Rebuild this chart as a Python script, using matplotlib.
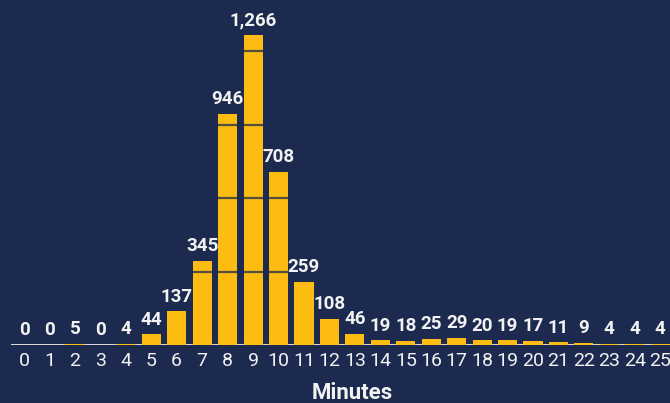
import matplotlib
matplotlib.use("Agg")
import matplotlib.pyplot as plt

minutes = list(range(26))
counts = [0, 0, 5, 0, 4, 44, 137, 345, 946, 1266, 708, 259, 108, 46, 19, 18, 25, 29, 20, 19, 17, 11, 9, 4, 4, 4]
x_title = "Minutes"

BG = "#1b2a4e"
BAR = "#fdbc12"
TXT = "#f2f2f2"
fam = ["Roboto", "DejaVu Sans"]

fig = plt.figure(figsize=(6.7, 4.03), dpi=100, facecolor=BG)
ax = fig.add_axes([11.3 / 670, 58 / 403, 661.7 / 670, 318 / 403], facecolor=BG)

ax.axhline(0, color="#d8d8d8", lw=2.2, zorder=1)
ax.bar(minutes, counts, width=0.75, color=BAR, zorder=2)
for gy in [300, 600, 900, 1200]:
    ax.axhline(gy, color=BG, alpha=0.75, lw=1.6, zorder=3)

for xv, v in zip(minutes, counts):
    ax.annotate(f"{v:,}", (xv, v), xytext=(0, 4), textcoords="offset points",
                ha="center", va="bottom", color=TXT, fontsize=13.5, fontweight="bold",
                family=fam, zorder=4)

ax.set_xlim(-0.5, 25.5)
ax.set_ylim(0, 1300)
ax.set_xticks(minutes)
ax.set_xticklabels([str(m) for m in minutes], family=fam, fontsize=14, color=TXT)
ax.tick_params(axis="x", length=0, pad=5)
ax.set_yticks([])
for s in ax.spines.values():
    s.set_visible(False)

fig.text(352 / 670, 1 - 393 / 403, x_title, ha="center", va="center", color=TXT,
         fontsize=16, fontweight="bold", family=fam)

fig.savefig("out.png", dpi=100, facecolor=BG)
